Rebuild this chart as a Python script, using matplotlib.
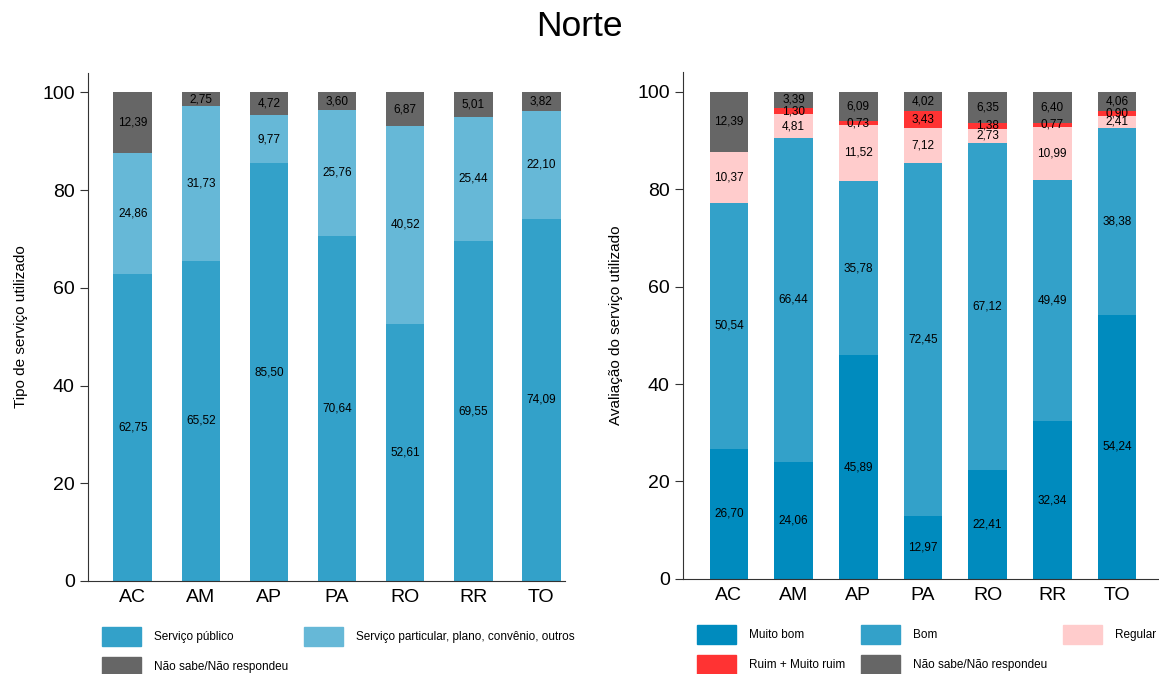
import numpy as np
import matplotlib.pyplot as plt
from matplotlib.patches import Patch

plt.rcParams['font.family'] = ['Liberation Sans', 'DejaVu Sans']

estados = ['AC', 'AM', 'AP', 'PA', 'RO', 'RR', 'TO']

# tipo de servico utilizado
publico = [62.75, 65.52, 85.50, 70.64, 52.61, 69.55, 74.09]
particular = [24.86, 31.73, 9.77, 25.76, 40.52, 25.44, 22.10]
nao_sabe_tipo = [12.39, 2.75, 4.72, 3.60, 6.87, 5.01, 3.82]

# avaliacao do servico utilizado
muito_bom = [26.70, 24.06, 45.89, 12.97, 22.41, 32.34, 54.24]
bom = [50.54, 66.44, 35.78, 72.45, 67.12, 49.49, 38.38]
regular = [10.37, 4.81, 11.52, 7.12, 2.73, 10.99, 2.41]
ruim = [0.0, 1.30, 0.73, 3.43, 1.38, 0.77, 0.90]
nao_sabe_aval = [12.39, 3.39, 6.09, 4.02, 6.35, 6.40, 4.06]

c_muito_bom = '#008BBE'
c_bom = '#33A1C9'
c_part = '#66B8D7'
c_reg = '#FFCCCC'
c_ruim = '#FF3333'
c_ns = '#666666'


def fmt(v):
    return f"{v:.2f}".replace('.', ',')


def stacked(ax, series, colors, width):
    x = np.arange(len(estados))
    base = np.zeros(len(estados))
    for vals, col in zip(series, colors):
        vals = np.array(vals)
        ax.bar(x, vals, width, bottom=base, color=col, edgecolor='none')
        for xi, b, v in zip(x, base, vals):
            if v > 0:
                ax.text(xi, b + v / 2, fmt(v), ha='center', va='center',
                        fontsize=8.5, color='black')
        base = base + vals


def style(ax, ylabel):
    ax.set_ylim(0, 104)
    ax.set_yticks([0, 20, 40, 60, 80, 100])
    ax.set_xticks(np.arange(len(estados)))
    ax.set_xticklabels(estados)
    ax.tick_params(axis='x', length=0, labelsize=14, pad=6)
    ax.tick_params(axis='y', length=6, labelsize=14, color='#333333')
    for s in ['top', 'right']:
        ax.spines[s].set_visible(False)
    for s in ['left', 'bottom']:
        ax.spines[s].set_color('#333333')
    ax.set_ylabel(ylabel, fontsize=11, labelpad=10)


fig = plt.figure(figsize=(11.59, 6.74), dpi=100)
ax1 = fig.add_axes([0.0759, 0.138, 0.4116, 0.754])
ax2 = fig.add_axes([0.5893, 0.141, 0.4107, 0.752])

stacked(ax1, [publico, particular, nao_sabe_tipo], [c_bom, c_part, c_ns], 0.57)
ax1.set_xlim(-0.66, 6.35)
style(ax1, 'Tipo de serviço utilizado')

stacked(ax2, [muito_bom, bom, regular, ruim, nao_sabe_aval],
        [c_muito_bom, c_bom, c_reg, c_ruim, c_ns], 0.6)
ax2.set_xlim(-0.71, 6.65)
style(ax2, 'Avaliação do serviço utilizado')

fig.suptitle('Norte', fontsize=25.5, y=0.985)

leg_kw = dict(frameon=False, fontsize=8.5, handlelength=3.3, handleheight=2.1,
              handletextpad=1.1, labelspacing=0.95)

h1 = [Patch(color=c_bom, label='Serviço público'),
      Patch(color=c_ns, label='Não sabe/Não respondeu'),
      Patch(color=c_part, label='Serviço particular, plano, convênio, outros')]
ax1.legend(handles=h1, ncol=2, loc='upper left', bbox_to_anchor=(0.019, -0.081),
           columnspacing=1.35, borderaxespad=0, **leg_kw)

h2 = [Patch(color=c_muito_bom, label='Muito bom'),
      Patch(color=c_ruim, label='Ruim + Muito ruim'),
      Patch(color=c_bom, label='Bom'),
      Patch(color=c_ns, label='Não sabe/Não respondeu'),
      Patch(color=c_reg, label='Regular')]
ax2.legend(handles=h2, ncol=3, loc='upper left', bbox_to_anchor=(0.019, -0.081),
           columnspacing=1.35, borderaxespad=0, **leg_kw)

fig.savefig('out.png', dpi=100)
